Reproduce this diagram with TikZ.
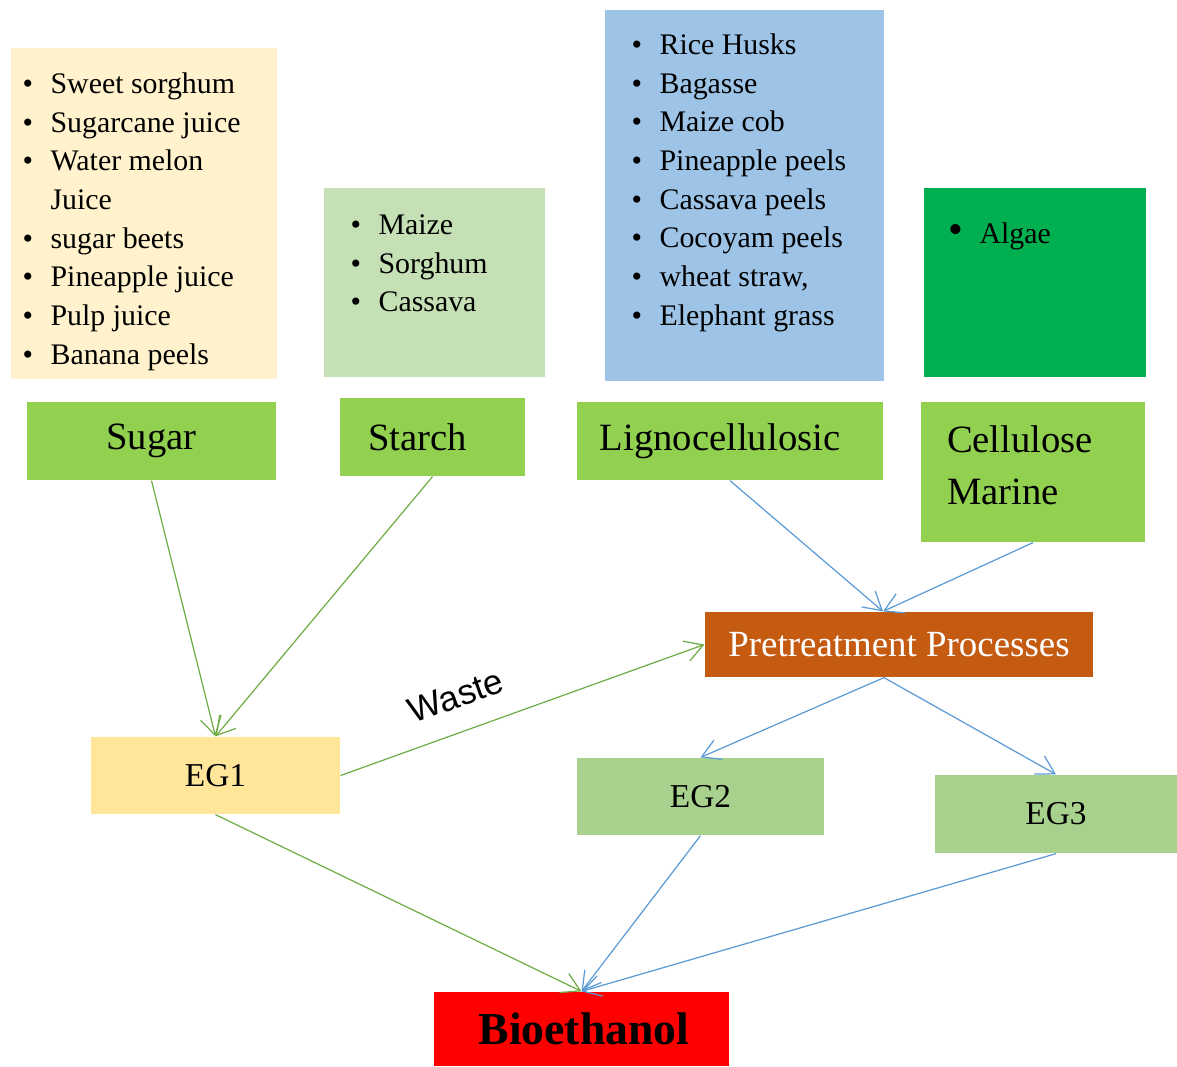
\documentclass[tikz,border=0pt]{standalone}
\usepackage{fontspec}
\setmainfont{Liberation Serif}
\newfontfamily\wastefont{Liberation Sans}
\usetikzlibrary{arrows.meta}

\definecolor{sugarlight}{HTML}{FFF2CC}
\definecolor{starchlight}{HTML}{C5E0B4}
\definecolor{lignolight}{HTML}{9DC3E6}
\definecolor{algaegreen}{HTML}{00B050}
\definecolor{kindgreen}{HTML}{92D050}
\definecolor{preorange}{HTML}{C55A11}
\definecolor{egyellow}{HTML}{FFE699}
\definecolor{eggreen}{HTML}{A9D18E}
\definecolor{flowgreen}{HTML}{70AD47}
\definecolor{flowblue}{HTML}{5B9BD5}

\newcommand{\itm}[1]{\makebox[0.56cm][l]{\textbullet}#1\\}
\newcommand{\cont}[1]{\hspace*{0.56cm}#1\\}

\begin{document}
\begin{tikzpicture}[x=0.02cm,y=-0.02cm,->,>={Straight Barb[length=0.36cm,width=0.42cm]},
                    line width=0.7pt]
  \tikzstyle{every node}=[inner sep=0pt]
  \tikzstyle{panel}=[rectangle,anchor=north west]
  \tikzstyle{items}=[anchor=north west,font=\fontsize{17}{22}\selectfont]
  \tikzstyle{kind}=[rectangle,fill=kindgreen,minimum height=1.56cm,font=\fontsize{22}{26}\selectfont]
  \tikzstyle{stage}=[rectangle,minimum height=1.54cm,font=\fontsize{19}{23}\selectfont]

  \useasboundingbox (0,0) rectangle (1177,1066);

  % feedstock lists
  \node[panel,fill=sugarlight,minimum width=5.32cm,minimum height=6.62cm] (sugarbox) at (10,47) {};
  \node[panel,fill=starchlight,minimum width=4.42cm,minimum height=3.78cm] (starchbox) at (323,187) {};
  \node[panel,fill=lignolight,minimum width=5.58cm,minimum height=7.42cm] (lignobox) at (604,9) {};
  \node[panel,fill=algaegreen,minimum width=4.44cm,minimum height=3.78cm] (algaebox) at (923,187) {};

  \node[items] (sugaritems) at (22,66) {\begin{tabular}{@{}l@{}}
    \itm{Sweet sorghum}\itm{Sugarcane juice}\itm{Water melon}\cont{Juice}
    \itm{sugar beets}\itm{Pineapple juice}\itm{Pulp juice}\itm{Banana peels}
  \end{tabular}};
  \node[items] (starchitems) at (350,207) {\begin{tabular}{@{}l@{}}
    \itm{Maize}\itm{Sorghum}\itm{Cassava}
  \end{tabular}};
  \node[items] (lignoitems) at (631,27) {\begin{tabular}{@{}l@{}}
    \itm{Rice Husks}\itm{Bagasse}\itm{Maize cob}\itm{Pineapple peels}
    \itm{Cassava peels}\itm{Cocoyam peels}\itm{wheat straw,}\itm{Elephant grass}
  \end{tabular}};
  \node[items] (algaeitems) at (948,216) {\begin{tabular}{@{}l@{}}
    \makebox[0.62cm][l]{\fontsize{24}{22}\selectfont\textbullet}Algae\\
  \end{tabular}};

  % feedstock kinds
  \node[kind,minimum width=4.98cm] (sugar)  at (151.5,441) {Sugar};
  \node[kind,minimum width=3.70cm] (starch) at (432.5,437) {\hspace*{-0.6cm}Starch};
  \node[kind,minimum width=6.12cm] (ligno)  at (730,441)   {\hspace*{-0.4cm}Lignocellulosic};
  \node[kind,minimum width=4.48cm,minimum height=2.8cm,inner xsep=0.52cm,
        font=\fontsize{22}{29.6}\selectfont] (marine) at (1033,472)
        {\parbox[c]{3.44cm}{Cellulose\\Marine\par\vspace{8pt}}};

  % processing
  \node[rectangle,fill=preorange,text=white,minimum width=7.76cm,minimum height=1.3cm,
        font=\fontsize{21}{25}\selectfont] (pre) at (899,644.5) {Pretreatment Processes};
  \node[stage,fill=egyellow,minimum width=4.98cm] (eg1) at (215.5,775.5) {EG1};
  \node[stage,fill=eggreen,minimum width=4.94cm]  (eg2) at (700.5,796.5) {EG2};
  \node[stage,fill=eggreen,minimum width=4.84cm,minimum height=1.56cm] (eg3) at (1056,814) {EG3};
  \node[rectangle,fill=red,minimum width=5.9cm,minimum height=1.48cm,
        font=\bfseries\fontsize{26}{30}\selectfont] (bio) at (581.5,1029) {\hspace*{0.1cm}Bioethanol};

  \coordinate (prein)  at ([xshift=-0.32cm]pre.north);
  \coordinate (preout) at ([xshift=-0.3cm]pre.south);

  \path[color=flowgreen]
        (sugar.south)  edge (eg1.north)
        (starch.south) edge (eg1.north)
        (eg1.east)     edge node[sloped,above=13pt,pos=0.35,text=black,
                                 font=\wastefont\fontsize{20}{24}\selectfont] {Waste} (pre.west)
        (eg1.south)    edge (bio.north);
  \path[color=flowblue]
        (ligno.south)  edge (prein)
        (marine.south) edge (prein)
        (preout)       edge (eg2.north)
        (preout)       edge (eg3.north)
        (eg2.south)    edge (bio.north)
        (eg3.south)    edge (bio.north);
\end{tikzpicture}
\end{document}
